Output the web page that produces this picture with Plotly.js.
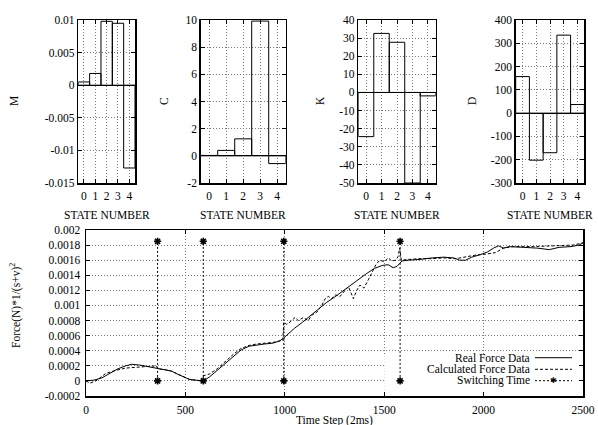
<!DOCTYPE html>
<html>
<head>
<meta charset="utf-8">
<script src="https://cdn.plot.ly/plotly-3.0.1.min.js"></script>
<style>html,body{margin:0;padding:0;background:#fff;}#chart{width:598px;height:425px;}</style>
</head>
<body>
<div id="chart"></div>
<script>
// ---- data ----
const states = [0, 1, 2, 3, 4];
const mValues = [0.0005, 0.0018, 0.0098, 0.0095, -0.0127];
const cValues = [0.03, 0.4, 1.25, 9.92, -0.57];
const kValues = [-24.4, 32.6, 27.7, -50, -1.9];
const dValues = [157, -202, -170, 335, 37];

const mTickVals = [-0.015, -0.01, -0.005, 0, 0.005, 0.01];
const mTickText = ["-0.015", "-0.01", "-0.005", "0", "0.005", "0.01"];
const cTickVals = [-2, 0, 2, 4, 6, 8, 10];
const cTickText = ["-2", "0", "2", "4", "6", "8", "10"];
const kTickVals = [-50, -40, -30, -20, -10, 0, 10, 20, 30, 40];
const kTickText = ["-50", "-40", "-30", "-20", "-10", "0", "10", "20", "30", "40"];
const dTickVals = [-300, -200, -100, 0, 100, 200, 300, 400];
const dTickText = ["-300", "-200", "-100", "0", "100", "200", "300", "400"];

const timeTickVals = [0, 500, 1000, 1500, 2000, 2500];
const forceTickVals = [-0.0002, 0, 0.0002, 0.0004, 0.0006, 0.0008, 0.001, 0.0012, 0.0014, 0.0016, 0.0018, 0.002];
const forceTickText = ["-0.0002", "0", "0.0002", "0.0004", "0.0006", "0.0008", "0.001", "0.0012", "0.0014", "0.0016", "0.0018", "0.002"];

const timeReal = [0, 40, 80, 120, 160, 200, 230, 270, 310, 360, 400, 430, 460, 490, 520, 550, 590, 620, 660, 700, 740, 780, 820, 860, 900, 940, 975, 995, 1020, 1050, 1090, 1130, 1170, 1210, 1250, 1290, 1330, 1370, 1410, 1450, 1490, 1520, 1545, 1565, 1590, 1620, 1680, 1740, 1800, 1850, 1880, 1910, 1940, 1980, 2020, 2050, 2075, 2100, 2130, 2200, 2270, 2330, 2380, 2440, 2480, 2500];
const forceReal = [0.0, 0.00001, 0.00004, 0.0001, 0.00016, 0.0002, 0.00022, 0.00021, 0.00019, 0.00016, 0.00015, 0.00013, 0.00009, 0.00005, 0.00002, 0.00001, 0.0, 0.00005, 0.00014, 0.00024, 0.00033, 0.00041, 0.00046, 0.00048, 0.00049, 0.0005, 0.00053, 0.00057, 0.00063, 0.0007, 0.00078, 0.00087, 0.00095, 0.00104, 0.00111, 0.00119, 0.00127, 0.00135, 0.00142, 0.00149, 0.00153, 0.00154, 0.0015, 0.00152, 0.00159, 0.0016, 0.00161, 0.00163, 0.00164, 0.00163, 0.0016, 0.0016, 0.00164, 0.00167, 0.00171, 0.00176, 0.00179, 0.00176, 0.00178, 0.00177, 0.00176, 0.00174, 0.00177, 0.00178, 0.0018, 0.00183];

const timeCalc = [0, 20, 50, 100, 150, 200, 250, 300, 355, 360, 400, 430, 460, 490, 520, 550, 588, 592, 620, 660, 700, 740, 780, 820, 860, 900, 940, 990, 995, 1009, 1026, 1051, 1068, 1093, 1118, 1135, 1161, 1186, 1203, 1219, 1236, 1253, 1278, 1303, 1320, 1345, 1362, 1378, 1398, 1420, 1437, 1460, 1479, 1500, 1521, 1538, 1559, 1570, 1578, 1586, 1620, 1680, 1740, 1800, 1860, 1920, 1965, 2010, 2060, 2100, 2150, 2250, 2350, 2450, 2500];
const forceCalc = [0.0, -0.00003, 0.0, 0.0001, 0.00014, 0.00017, 0.00018, 0.00019, 0.0002, 0.00016, 0.00015, 0.00013, 0.00009, 0.00005, 0.00002, 0.00001, 0.0, 0.00007, 0.00009, 0.00016, 0.00026, 0.00035, 0.00043, 0.00047, 0.00049, 0.0005, 0.00051, 0.00054, 0.00078, 0.00075, 0.00078, 0.00084, 0.0008, 0.00084, 0.0008, 0.00087, 0.00091, 0.001, 0.00109, 0.00112, 0.00109, 0.00114, 0.00112, 0.0012, 0.00125, 0.00109, 0.0012, 0.00127, 0.00123, 0.00134, 0.00143, 0.00155, 0.0016, 0.00158, 0.00163, 0.00159, 0.0016, 0.00165, 0.00176, 0.0016, 0.00161, 0.00162, 0.00162, 0.00163, 0.00162, 0.00165, 0.00167, 0.00168, 0.0017, 0.00176, 0.00178, 0.00178, 0.00179, 0.0018, 0.00183];

const switchTimes = [360, 590, 995, 1580];
const switchLevels = [0, 0.00185];

// ---- build ----
const FONT = "Liberation Serif";
const FS = 11.5;
const GRID = "#7a7a7a";
const GRIDDASH = "1px,2px";

const swX = [], swY = [];
switchTimes.forEach(t => { swX.push(t, t, null); swY.push(switchLevels[0], switchLevels[1], null); });

function barTrace(vals, n) {
  return {
    type: "bar", x: states, y: vals, width: 1,
    xaxis: "x" + (n === 1 ? "" : n), yaxis: "y" + (n === 1 ? "" : n),
    marker: { color: "rgba(0,0,0,0)", line: { color: "#000", width: 1 } },
    showlegend: false, hoverinfo: "skip"
  };
}

const traces = [
  barTrace(mValues, 1), barTrace(cValues, 2), barTrace(kValues, 3), barTrace(dValues, 4),
  { type: "scatter", mode: "lines", x: timeReal, y: forceReal, xaxis: "x5", yaxis: "y5",
    name: "Real Force Data", line: { color: "#000", width: 1 }, showlegend: false },
  { type: "scatter", mode: "lines", x: timeCalc, y: forceCalc, xaxis: "x5", yaxis: "y5",
    name: "Calculated Force Data", line: { color: "#000", width: 1, dash: "3px,2px" }, showlegend: false },
  { type: "scatter", mode: "lines+markers", x: swX, y: swY, xaxis: "x5", yaxis: "y5",
    name: "Switching Time", connectgaps: false,
    line: { color: "#000", width: 1, dash: "2px,2px" },
    marker: { symbol: "asterisk-open", size: 6, color: "#000", line: { color: "#000", width: 1.6 } },
    showlegend: false }
];

const W = 598, H = 425;
const px = v => v / W, py = v => 1 - v / H;
const tickFont = { family: FONT, size: FS, color: "#000" };

function xAx(d0, d1, anchor) {
  return {
    domain: [px(d0), px(d1)], anchor: anchor, range: [-0.5, 4.5],
    tickvals: states, ticks: "inside", ticklen: 4, tickcolor: "#000",
    showline: true, mirror: "ticks", linecolor: "#000", linewidth: 1.5,
    showgrid: true, gridcolor: GRID, griddash: GRIDDASH, gridwidth: 1,
    zeroline: false, tickfont: tickFont, ticklabelstandoff: 2, fixedrange: true
  };
}
function yAx(range, vals, text, anchor) {
  return {
    domain: [py(183), py(20)], anchor: anchor, range: range,
    tickvals: vals, ticktext: text, ticks: "inside", ticklen: 4, tickcolor: "#000",
    showline: true, mirror: "ticks", linecolor: "#000", linewidth: 1.5,
    showgrid: true, gridcolor: GRID, griddash: GRIDDASH, gridwidth: 1,
    zeroline: true, zerolinecolor: "#000", zerolinewidth: 1,
    tickfont: tickFont, fixedrange: true
  };
}

const titleFont = { family: FONT, size: FS, color: "#000" };

const annotations = [
  { text: "M", x: px(14), y: py(101) }, { text: "C", x: px(164), y: py(101) },
  { text: "K", x: px(320), y: py(101) }, { text: "D", x: px(472), y: py(101) }
].map(a => Object.assign(a, { xref: "paper", yref: "paper", showarrow: false, textangle: -90, font: titleFont, xanchor: "center", yanchor: "middle" }));

[[78.3, 135], [200.7, 285.7], [358.3, 435.7], [515.7, 584.3]].forEach(d => {
  annotations.push({ text: "STATE NUMBER", x: px((d[0] + d[1]) / 2), y: py(215), xref: "paper", yref: "paper",
    showarrow: false, font: titleFont, xanchor: "center", yanchor: "middle" });
});

annotations.push({ text: "Time Step (2ms)", x: px(334.5), y: py(420), xref: "paper", yref: "paper",
  showarrow: false, font: titleFont, xanchor: "center", yanchor: "middle" });
annotations.push({ text: "Force(N)*1/(s+v)<sup>2</sup>", x: px(15), y: py(306), xref: "paper", yref: "paper",
  showarrow: false, textangle: -90, font: titleFont, xanchor: "center", yanchor: "middle" });

const legendRows = [["Real Force Data", 357.7, "solid"], ["Calculated Force Data", 369.3, "3px,2px"], ["Switching Time", 380.7, "2px,2px"]];
const shapes = [
  { type: "rect", xref: "x5", yref: "y5", x0: 1500, x1: 2500, y0: -0.0002, y1: 0.00035,
    fillcolor: "#fff", line: { width: 0 }, layer: "between" }
];
legendRows.forEach(r => {
  annotations.push({ text: r[0], x: px(531.5), y: py(r[1]), xref: "paper", yref: "paper", showarrow: false,
    font: titleFont, xanchor: "right", yanchor: "middle" });
  shapes.push({ type: "line", xref: "paper", yref: "paper", x0: px(535), x1: px(572), y0: py(r[1]), y1: py(r[1]),
    line: { color: "#000", width: 1, dash: r[2] }, layer: "above" });
});
annotations.push({ text: "✱", x: px(553.5), y: py(380.7), xref: "paper", yref: "paper", showarrow: false,
  font: { family: "DejaVu Sans", size: 8, color: "#000" }, xanchor: "center", yanchor: "middle" });

const layout = {
  width: W, height: H, margin: { l: 0, r: 0, t: 0, b: 0 },
  paper_bgcolor: "#fff", plot_bgcolor: "#fff", showlegend: false,
  xaxis: xAx(78.3, 135, "y"), yaxis: yAx([-0.015, 0.01], mTickVals, mTickText, "x"),
  xaxis2: xAx(200.7, 285.7, "y2"), yaxis2: yAx([-2, 10], cTickVals, cTickText, "x2"),
  xaxis3: xAx(358.3, 435.7, "y3"), yaxis3: yAx([-50, 40], kTickVals, kTickText, "x3"),
  xaxis4: xAx(515.7, 584.3, "y4"), yaxis4: yAx([-300, 400], dTickVals, dTickText, "x4"),
  xaxis5: {
    domain: [px(86), px(583)], anchor: "y5", range: [0, 2500], tickvals: timeTickVals,
    ticks: "inside", ticklen: 4, tickcolor: "#000", showline: true, mirror: "ticks", linecolor: "#000", linewidth: 1.5,
    showgrid: true, gridcolor: GRID, griddash: GRIDDASH, gridwidth: 1, zeroline: false,
    tickfont: tickFont, ticklabelstandoff: 3, fixedrange: true
  },
  yaxis5: {
    domain: [py(396), py(230)], anchor: "x5", range: [-0.0002, 0.002], tickvals: forceTickVals, ticktext: forceTickText,
    ticks: "inside", ticklen: 4, tickcolor: "#000", showline: true, mirror: "ticks", linecolor: "#000", linewidth: 1.5,
    showgrid: true, gridcolor: GRID, griddash: GRIDDASH, gridwidth: 1, zeroline: false,
    tickfont: tickFont, ticklabelstandoff: 2, fixedrange: true
  },
  annotations: annotations, shapes: shapes
};

Plotly.newPlot("chart", traces, layout, { staticPlot: true, displayModeBar: false });
</script>
</body>
</html>
